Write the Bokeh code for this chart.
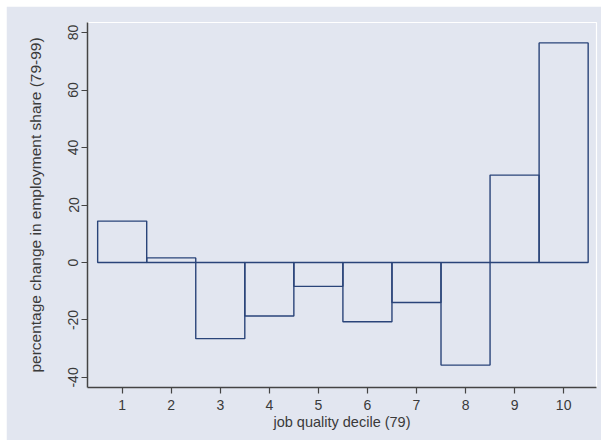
from bokeh.plotting import figure
from bokeh.models import Range1d, FixedTicker
from bokeh.embed import file_html
from bokeh.resources import INLINE

deciles = [1, 2, 3, 4, 5, 6, 7, 8, 9, 10]
pct_change = [14.4, 1.6, -26.5, -18.6, -8.3, -20.6, -13.9, -35.7, 30.4, 76.4]
x_ticks = [1, 2, 3, 4, 5, 6, 7, 8, 9, 10]
y_ticks = [-40, -20, 0, 20, 40, 60, 80]
y_tick_labels = {t: str(t) for t in y_ticks}

BG = "#E2E6F0"
NAVY = "#2A4479"
TXT = "#3A3A3A"
FONT = "Liberation Sans"

p = figure(frame_width=509, frame_height=365, output_backend="svg",
           toolbar_location=None, margin=(6, 0, 0, 6),
           x_range=Range1d(0.293, 10.67), y_range=Range1d(-43.5, 83.5),
           min_border_left=81, min_border_top=16, min_border_right=5,
           min_border_bottom=53)
p.background_fill_color = BG
p.border_fill_color = BG
p.outline_line_color = "white"
p.outline_line_width = 1.2
p.grid.visible = False

p.vbar(x=deciles, top=pct_change, bottom=0, width=1.0,
       fill_color=None, line_color=NAVY, line_width=1.4)

for ax in (p.xaxis, p.yaxis):
    ax.axis_line_color = "#444444"
    ax.axis_line_width = 1.5
    ax.major_tick_line_color = "#444444"
    ax.major_tick_line_width = 1.2
    ax.major_tick_in = 0
    ax.major_tick_out = 6
    ax.minor_tick_line_color = None
    ax.major_label_text_font = FONT
    ax.major_label_text_font_size = "14px"
    ax.major_label_text_color = TXT
    ax.axis_label_text_font = FONT
    ax.axis_label_text_font_style = "normal"
    ax.axis_label_text_color = TXT

p.xaxis.axis_label_text_font_size = "14.5px"
p.yaxis.axis_label_text_font_size = "15.5px"
p.xaxis.ticker = FixedTicker(ticks=x_ticks)
p.yaxis.ticker = FixedTicker(ticks=y_ticks)
p.yaxis.major_label_overrides = y_tick_labels
p.xaxis.axis_label = "job quality decile (79)"
p.yaxis.axis_label = "percentage change in employment share (79-99)"
p.yaxis.major_label_orientation = "vertical"
p.xaxis.major_label_standoff = 6
p.xaxis.axis_label_standoff = 1
p.yaxis.major_label_standoff = 3
p.yaxis.axis_label_standoff = 22

open("out.html", "w").write(file_html(p, INLINE))
